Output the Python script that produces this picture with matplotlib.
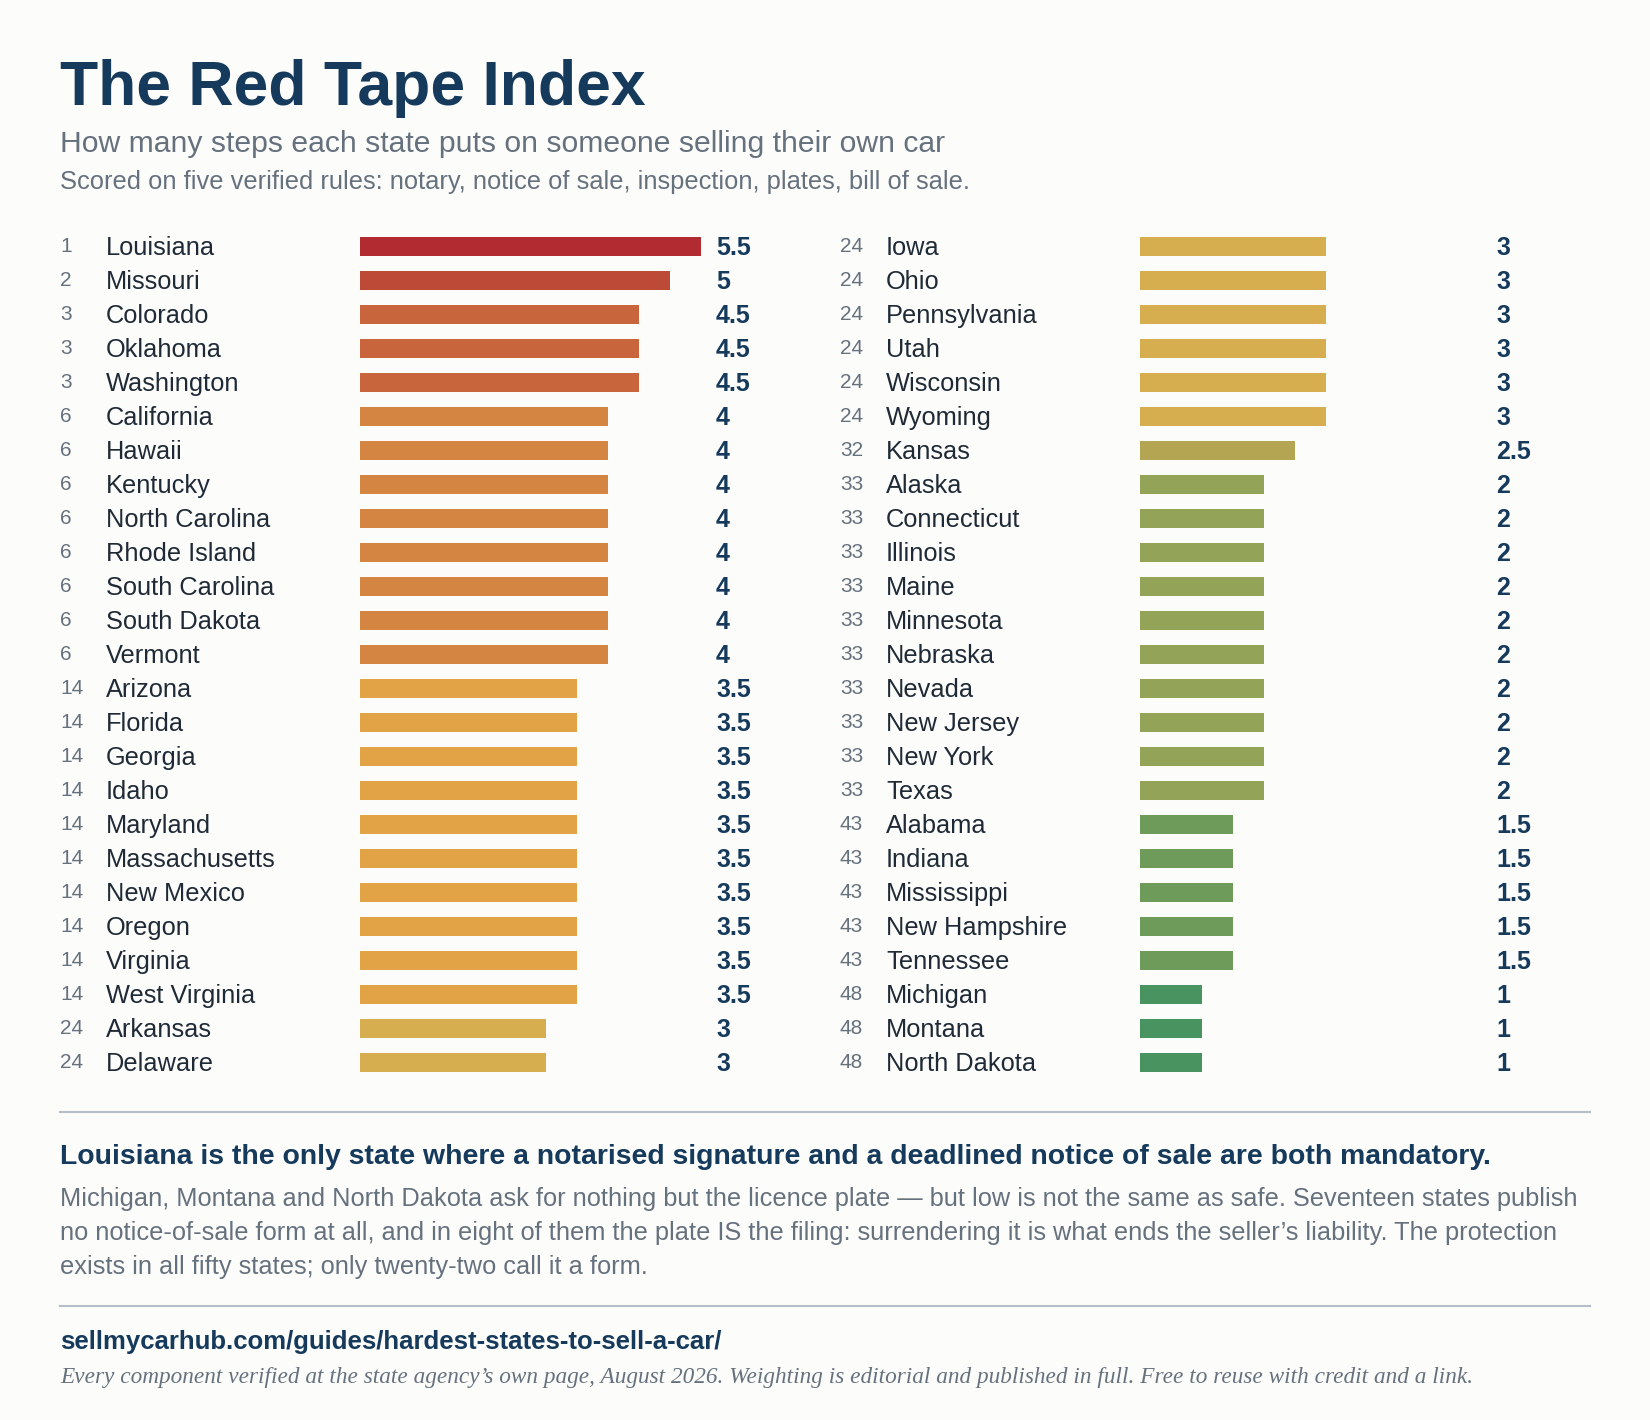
import matplotlib
matplotlib.use("Agg")
import matplotlib.pyplot as plt
from matplotlib.lines import Line2D
from matplotlib.transforms import blended_transform_factory

# ---------------- data ----------------
left_ranks = [1, 2, 3, 3, 3, 6, 6, 6, 6, 6, 6, 6, 6,
              14, 14, 14, 14, 14, 14, 14, 14, 14, 14, 24, 24]
left_states = ['Louisiana', 'Missouri', 'Colorado', 'Oklahoma', 'Washington',
               'California', 'Hawaii', 'Kentucky', 'North Carolina', 'Rhode Island',
               'South Carolina', 'South Dakota', 'Vermont', 'Arizona', 'Florida',
               'Georgia', 'Idaho', 'Maryland', 'Massachusetts', 'New Mexico',
               'Oregon', 'Virginia', 'West Virginia', 'Arkansas', 'Delaware']
left_scores = [5.5, 5, 4.5, 4.5, 4.5, 4, 4, 4, 4, 4, 4, 4, 4,
               3.5, 3.5, 3.5, 3.5, 3.5, 3.5, 3.5, 3.5, 3.5, 3.5, 3, 3]

right_ranks = [24, 24, 24, 24, 24, 24, 32, 33, 33, 33, 33, 33, 33, 33, 33, 33, 33,
               43, 43, 43, 43, 43, 48, 48, 48]
right_states = ['Iowa', 'Ohio', 'Pennsylvania', 'Utah', 'Wisconsin', 'Wyoming',
                'Kansas', 'Alaska', 'Connecticut', 'Illinois', 'Maine', 'Minnesota',
                'Nebraska', 'Nevada', 'New Jersey', 'New York', 'Texas', 'Alabama',
                'Indiana', 'Mississippi', 'New Hampshire', 'Tennessee', 'Michigan',
                'Montana', 'North Dakota']
right_scores = [3, 3, 3, 3, 3, 3, 2.5, 2, 2, 2, 2, 2, 2, 2, 2, 2, 2,
                1.5, 1.5, 1.5, 1.5, 1.5, 1, 1, 1]

score_colors = {5.5: '#b22b30', 5: '#bd4a37', 4.5: '#c8653c', 4: '#d58542',
                3.5: '#e2a246', 3: '#d6ad4f', 2.5: '#b3a552', 2: '#93a358',
                1.5: '#6e9a5a', 1: '#48935f'}

NAVY = '#163a5c'
GREY = '#66717e'
INK = '#1f2a36'
BG = '#fcfcfa'

W, H = 1650, 1420
plt.rcParams['font.family'] = ['Liberation Sans', 'DejaVu Sans']

fig = plt.figure(figsize=(W / 100, H / 100), dpi=100, facecolor=BG)


def fx(x):
    return x / W


def fy(y):
    return 1 - y / H


# ---------------- header ----------------
fig.text(fx(60), fy(105), 'The Red Tape Index', fontsize=45, fontweight='bold',
         color=NAVY, va='baseline')
fig.text(fx(60), fy(152), 'How many steps each state puts on someone selling their own car',
         fontsize=21.7, color=GREY, va='baseline')
fig.text(fx(60), fy(189.5),
         'Scored on five verified rules: notary, notice of sale, inspection, plates, bill of sale.',
         fontsize=18.4, color=GREY, va='baseline')

# ---------------- bar columns ----------------
PX_PER_UNIT = 62
ROW = 34
top, bottom = 229, 229 + 25 * ROW


def column(ranks, states, scores, bar_x, rank_x, name_x):
    ax = fig.add_axes([fx(bar_x), fy(bottom), fx(440), (bottom - top) / H])
    ax.set_xlim(0, 440 / PX_PER_UNIT)
    ax.set_ylim(len(states) - 0.5, -0.5)
    ax.axis('off')
    ypos = list(range(len(states)))
    ax.barh(ypos, scores, height=19 / ROW, color=[score_colors[s] for s in scores])
    tr = blended_transform_factory(fig.transFigure, ax.transData)
    for i in ypos:
        ax.text(fx(rank_x), i + 6 / ROW, str(ranks[i]), transform=tr, fontsize=15,
                color=GREY, va='baseline')
        ax.text(fx(name_x), i + 9 / ROW, states[i], transform=tr, fontsize=18.3,
                color=INK, va='baseline')
        ax.text((716 - 360) / PX_PER_UNIT, i + 9 / ROW, '%g' % scores[i], fontsize=18,
                fontweight='bold', color=NAVY, va='baseline')
    return ax


column(left_ranks, left_states, left_scores, 360, 60, 106)
column(right_ranks, right_states, right_scores, 1140, 840, 886)

# ---------------- notes ----------------
for y in (1112, 1306):
    fig.add_artist(Line2D([fx(60), fx(1590)], [fy(y), fy(y)], transform=fig.transFigure,
                          color='#b4bfca', lw=1.5))

fig.text(fx(60), fy(1164),
         'Louisiana is the only state where a notarised signature and a deadlined notice of sale are both mandatory.',
         fontsize=20.4, fontweight='bold', color=NAVY, va='baseline')
para = ['Michigan, Montana and North Dakota ask for nothing but the licence plate \u2014 but low is not the same as safe. Seventeen states publish',
        'no notice-of-sale form at all, and in eight of them the plate IS the filing: surrendering it is what ends the seller\u2019s liability. The protection',
        'exists in all fifty states; only twenty-two call it a form.']
for k, line in enumerate(para):
    fig.text(fx(60), fy(1206 + 34 * k), line, fontsize=18.3, color=GREY, va='baseline')

fig.text(fx(60), fy(1349.5), 'sellmycarhub.com/guides/hardest-states-to-sell-a-car/',
         fontsize=18.5, fontweight='bold', color=NAVY, va='baseline')
fig.text(fx(60), fy(1383),
         'Every component verified at the state agency\u2019s own page, August 2026. Weighting is editorial and published in full. Free to reuse with credit and a link.',
         fontsize=16.75, style='italic', family=['Liberation Serif', 'DejaVu Serif'],
         color=GREY, va='baseline')

fig.savefig('out.png', dpi=100, facecolor=BG)
